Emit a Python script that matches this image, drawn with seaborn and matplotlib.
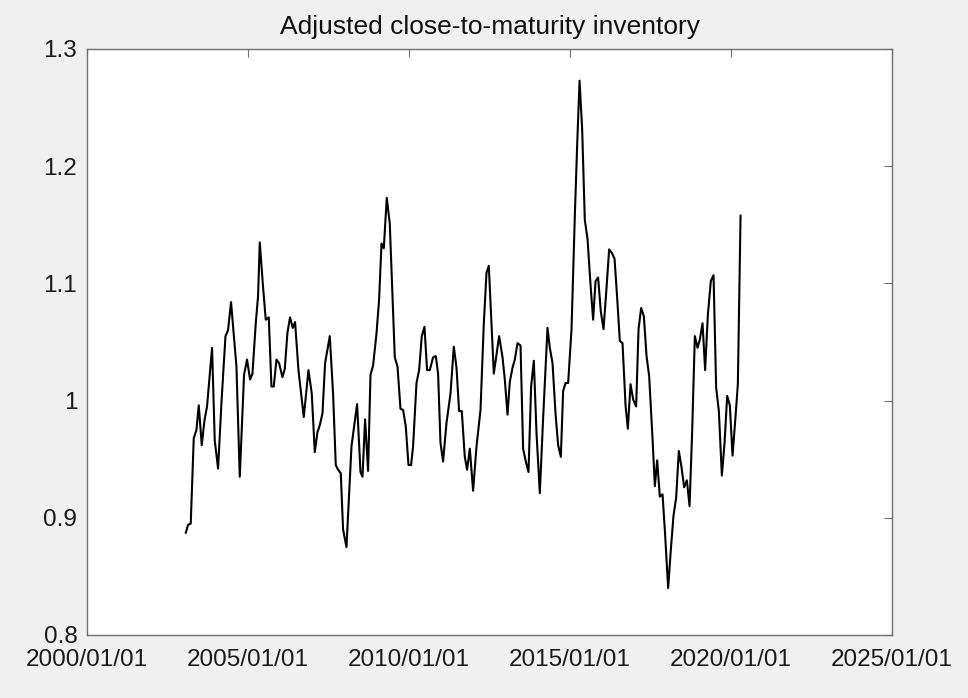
import matplotlib
matplotlib.use("Agg")
import matplotlib.dates as mdates
import matplotlib.pyplot as plt
import pandas as pd
import seaborn as sns

years = [
    2003.066, 2003.138, 2003.221, 2003.315, 2003.399, 2003.470, 2003.563, 2003.647, 2003.728, 2003.883,
    2003.967, 2004.070, 2004.175, 2004.300, 2004.380, 2004.473, 2004.641, 2004.744, 2004.877, 2004.970,
    2005.064, 2005.138, 2005.241, 2005.312, 2005.365, 2005.467, 2005.551, 2005.645, 2005.728, 2005.800,
    2005.884, 2005.964, 2006.070, 2006.142, 2006.225, 2006.306, 2006.390, 2006.462, 2006.567, 2006.732,
    2006.878, 2006.980, 2007.074, 2007.157, 2007.229, 2007.313, 2007.394, 2007.540, 2007.642, 2007.726,
    2007.797, 2007.881, 2007.953, 2008.058, 2008.214, 2008.388, 2008.494, 2008.556, 2008.636, 2008.729,
    2008.804, 2008.885, 2008.990, 2009.071, 2009.146, 2009.217, 2009.310, 2009.403, 2009.559, 2009.643,
    2009.736, 2009.817, 2009.900, 2009.984, 2010.065, 2010.127, 2010.233, 2010.314, 2010.398, 2010.481,
    2010.562, 2010.646, 2010.749, 2010.832, 2010.904, 2010.978, 2011.059, 2011.165, 2011.289, 2011.392,
    2011.476, 2011.556, 2011.640, 2011.733, 2011.805, 2011.889, 2011.991, 2012.097, 2012.221, 2012.324,
    2012.407, 2012.479, 2012.634, 2012.799, 2012.905, 2012.976, 2013.060, 2013.131, 2013.215, 2013.287,
    2013.370, 2013.464, 2013.544, 2013.628, 2013.712, 2013.793, 2013.877, 2013.961, 2014.063, 2014.166,
    2014.302, 2014.374, 2014.458, 2014.551, 2014.632, 2014.716, 2014.787, 2014.862, 2014.943, 2015.048,
    2015.151, 2015.222, 2015.297, 2015.378, 2015.461, 2015.545, 2015.638, 2015.719, 2015.794, 2015.874,
    2015.958, 2016.042, 2016.135, 2016.216, 2016.300, 2016.384, 2016.465, 2016.548, 2016.632, 2016.726,
    2016.797, 2016.881, 2016.962, 2017.055, 2017.130, 2017.210, 2017.294, 2017.378, 2017.459, 2017.565,
    2017.636, 2017.708, 2017.791, 2017.875, 2017.956, 2018.049, 2018.133, 2018.216, 2018.297, 2018.381,
    2018.465, 2018.546, 2018.630, 2018.714, 2018.794, 2018.878, 2018.962, 2019.033, 2019.117, 2019.198,
    2019.282, 2019.375, 2019.459, 2019.540, 2019.624, 2019.717, 2019.801, 2019.882, 2019.965, 2020.049,
    2020.130, 2020.214, 2020.298,
]

inventory = [
    0.887, 0.894, 0.895, 0.968, 0.975, 0.996, 0.962, 0.983, 0.995, 1.045,
    0.966, 0.942, 0.998, 1.055, 1.060, 1.084, 1.029, 0.935, 1.022, 1.035,
    1.018, 1.023, 1.066, 1.089, 1.135, 1.097, 1.069, 1.071, 1.012, 1.012,
    1.035, 1.032, 1.020, 1.027, 1.058, 1.071, 1.062, 1.067, 1.026, 0.986,
    1.026, 1.006, 0.956, 0.973, 0.979, 0.989, 1.032, 1.055, 1.006, 0.945,
    0.941, 0.938, 0.890, 0.875, 0.961, 0.997, 0.939, 0.935, 0.984, 0.940,
    1.022, 1.030, 1.057, 1.086, 1.134, 1.130, 1.173, 1.151, 1.037, 1.029,
    0.993, 0.992, 0.978, 0.945, 0.945, 0.961, 1.015, 1.026, 1.055, 1.063,
    1.026, 1.026, 1.037, 1.038, 1.023, 0.964, 0.948, 0.981, 1.006, 1.046,
    1.028, 0.991, 0.991, 0.952, 0.941, 0.959, 0.923, 0.961, 0.992, 1.066,
    1.109, 1.115, 1.023, 1.055, 1.037, 1.018, 0.988, 1.016, 1.028, 1.035,
    1.049, 1.047, 0.959, 0.948, 0.939, 1.012, 1.034, 0.972, 0.921, 0.985,
    1.062, 1.045, 1.032, 0.989, 0.962, 0.952, 1.008, 1.015, 1.015, 1.061,
    1.158, 1.217, 1.273, 1.232, 1.154, 1.138, 1.099, 1.069, 1.102, 1.105,
    1.076, 1.061, 1.096, 1.129, 1.126, 1.121, 1.088, 1.051, 1.049, 0.996,
    0.976, 1.014, 1.001, 0.995, 1.061, 1.079, 1.072, 1.038, 1.021, 0.967,
    0.927, 0.949, 0.918, 0.920, 0.885, 0.840, 0.873, 0.902, 0.917, 0.957,
    0.943, 0.926, 0.932, 0.910, 0.973, 1.055, 1.045, 1.052, 1.066, 1.026,
    1.073, 1.102, 1.107, 1.011, 0.991, 0.936, 0.964, 1.004, 0.996, 0.953,
    0.982, 1.014, 1.158,
]

x_ticks = ["2000-01-01", "2005-01-01", "2010-01-01", "2015-01-01", "2020-01-01", "2025-01-01"]
y_ticks = [0.8, 0.9, 1.0, 1.1, 1.2, 1.3]
y_tick_labels = ["0.8", "0.9", "1", "1.1", "1.2", "1.3"]

base = pd.Timestamp("2000-01-01")
dates = [base + pd.to_timedelta((y - 2000) * 365.25, unit="D") for y in years]
df = pd.DataFrame({"date": dates, "inventory": inventory})

sns.set_style("white")
plt.rcParams["font.family"] = ["Liberation Sans", "DejaVu Sans"]

fig = plt.figure(figsize=(9.68, 6.98), dpi=100, facecolor="#f0f0f0")
ax = fig.add_axes([0.0899, 0.0903, 0.8316, 0.8395])
ax.set_facecolor("white")

sns.lineplot(data=df, x="date", y="inventory", color="black", linewidth=1.5, ax=ax, estimator=None, sort=False)

ax.set_xlim(pd.Timestamp(x_ticks[0]), pd.Timestamp(x_ticks[-1]))
ax.set_ylim(0.8, 1.3)
ax.set_xticks([pd.Timestamp(t) for t in x_ticks])
ax.xaxis.set_major_formatter(mdates.DateFormatter("%Y/%m/%d"))
ax.set_yticks(y_ticks)
ax.set_yticklabels(y_tick_labels)
ax.set_xlabel("")
ax.set_ylabel("")

for spine in ax.spines.values():
    spine.set_visible(True)
    spine.set_color("#6e6e6e")
    spine.set_linewidth(1.0)

ax.tick_params(direction="in", length=6, width=0.8, color="#6e6e6e",
               top=True, right=True, labelsize=17.5, labelcolor="#1a1a1a")
ax.tick_params(axis="x", pad=10)
ax.tick_params(axis="y", pad=7)

ax.set_title("Adjusted close-to-maturity inventory", fontsize=19, color="#111111", pad=11)

fig.savefig("out.png", dpi=100, facecolor=fig.get_facecolor())
